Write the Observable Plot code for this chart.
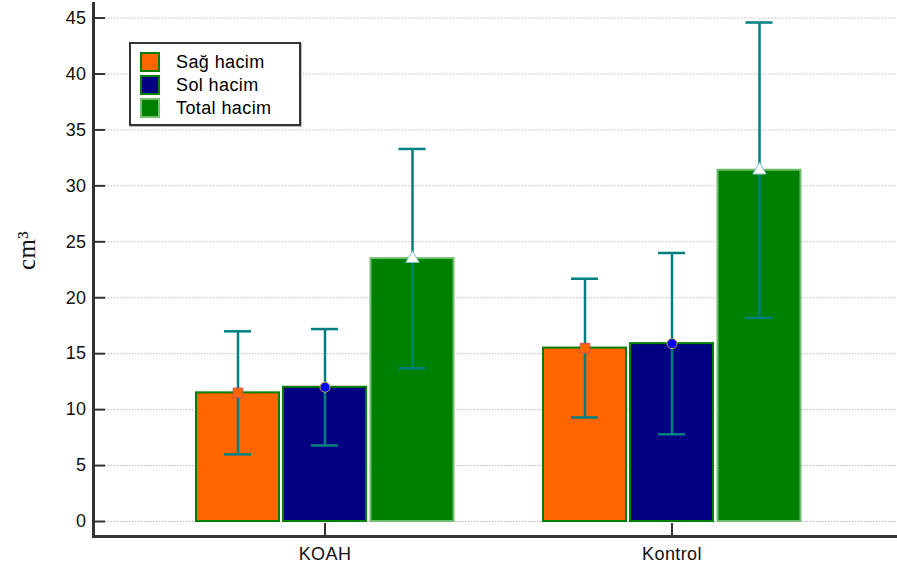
<!DOCTYPE html>
<html><head><meta charset="utf-8">
<script src="https://cdn.jsdelivr.net/npm/d3@7"></script>
<script src="https://cdn.jsdelivr.net/npm/@observablehq/plot@0.6"></script>
<style>
body{margin:0;background:#fff;}
#wrap{position:relative;width:897px;height:570px;font-family:"Liberation Sans",Arial,sans-serif;}
#wrap svg text{letter-spacing:0.4px;}
#legend{position:absolute;left:129px;top:42px;width:172px;height:84px;border:2px solid #333;background:#fff;box-sizing:border-box;box-shadow:1px 1px 0 #bbb;}
.row{position:absolute;left:9px;height:20px;display:flex;align-items:center;font-size:18px;letter-spacing:0.4px;color:#000;}
.sw{width:16px;height:16px;border:2px solid #008000;margin-right:16px;}
</style></head>
<body><div id="wrap"></div>
<script>
const groups = ["KOAH", "Kontrol"];
const series = ["Sağ hacim", "Sol hacim", "Total hacim"];
const koahMeans = [11.5, 12.0, 23.5];
const koahSD = [5.5, 5.2, 9.8];
const kontrolMeans = [15.5, 15.9, 31.4];
const kontrolSD = [6.2, 8.1, 13.2];
const yTicks = [0, 5, 10, 15, 20, 25, 30, 35, 40, 45];
const yLabel = "cm³";

const colors = ["#FF6600", "#000080", "#008000"];
const barStroke = ["#008000", "#008000", "#70c070"];
const symbols = ["square", "circle", "triangle"];
const symFill = ["#FF6600", "#0000FF", "#FFFFFF"];
const symStroke = ["#d05050", "#d0a040", "#7fbfbf"];
const symR = [5.4, 5, 5];
const offsets = [-87, 0, 87.5];
const teal = "#008080";

const rows = [];
series.forEach((s, i) => {
  rows.push({group: "KOAH", series: s, si: i, mean: koahMeans[i], sd: koahSD[i]});
  rows.push({group: "Kontrol", series: s, si: i, mean: kontrolMeans[i], sd: kontrolSD[i]});
});

const W = 897, H = 570, mL = 93, mR = 0, mT = 3, mB = 34;
const yMin = -1.34, yMax = 46.3;

const marks = [
  Plot.gridY(yTicks, {stroke: "#bbb", strokeOpacity: 1, strokeDasharray: "1.5,1.5", insetLeft: 12}),
  Plot.gridY(yTicks, {stroke: "#333", strokeOpacity: 1, strokeWidth: 2, insetRight: W - mL - mR - 12}),
  Plot.gridX(groups, {stroke: "#333", strokeOpacity: 1, strokeWidth: 2, insetTop: H - mT - mB - 13}),
  Plot.axisY(yTicks, {tickSize: 0, tickPadding: 7, fontSize: 18, fill: "#111", label: null}),
  Plot.axisX({tickSize: 0, tickPadding: 11, fontSize: 18, fill: "#111", label: null}),
  Plot.text([yLabel], {frameAnchor: "left", rotate: -90, dx: -67, fontSize: 25, fontFamily: "Liberation Serif, Times New Roman, serif", fill: "#111"})
];
series.forEach((s, i) => {
  const d = rows.filter(r => r.si === i);
  marks.push(
    Plot.barY(d, {x: "group", y: "mean", dx: offsets[i], fill: colors[i], stroke: barStroke[i], strokeWidth: 2}),
    Plot.ruleX(d, {x: "group", y1: r => r.mean - r.sd, y2: r => r.mean + r.sd, dx: offsets[i], stroke: teal, strokeWidth: 2.5}),
    Plot.tickY(d, {x: "group", y: r => r.mean - r.sd, dx: offsets[i], stroke: teal, strokeWidth: 2.5, insetLeft: 28, insetRight: 28}),
    Plot.tickY(d, {x: "group", y: r => r.mean + r.sd, dx: offsets[i], stroke: teal, strokeWidth: 2.5, insetLeft: 28, insetRight: 28}),
    Plot.dot(d, {x: "group", y: "mean", dx: offsets[i], symbol: symbols[i], r: symR[i], fill: symFill[i], stroke: symStroke[i], strokeWidth: 1})
  );
});
marks.push(
  Plot.ruleY([yMin], {stroke: "#333", strokeWidth: 3}),
  Plot.frame({anchor: "left", stroke: "#333", strokeWidth: 3})
);

const chart = Plot.plot({
  width: W, height: H,
  marginLeft: mL, marginRight: mR, marginTop: mT, marginBottom: mB,
  style: {fontFamily: "Liberation Sans, Arial, sans-serif", fontSize: "18px", background: "#fff"},
  x: {type: "band", domain: groups, paddingInner: 0.761, paddingOuter: 0.539, align: 0.508, axis: null},
  y: {domain: [yMin, yMax], axis: null},
  marks
});
const wrap = document.getElementById("wrap");
wrap.appendChild(chart);

const leg = document.createElement("div");
leg.id = "legend";
series.forEach((s, i) => {
  const r = document.createElement("div");
  r.className = "row";
  r.style.top = (8 + i * 23) + "px";
  const sw = document.createElement("div");
  sw.className = "sw";
  sw.style.background = colors[i];
  sw.style.borderColor = barStroke[i];
  const t = document.createElement("span");
  t.textContent = s;
  r.appendChild(sw); r.appendChild(t);
  leg.appendChild(r);
});
wrap.appendChild(leg);
</script>
</body></html>
